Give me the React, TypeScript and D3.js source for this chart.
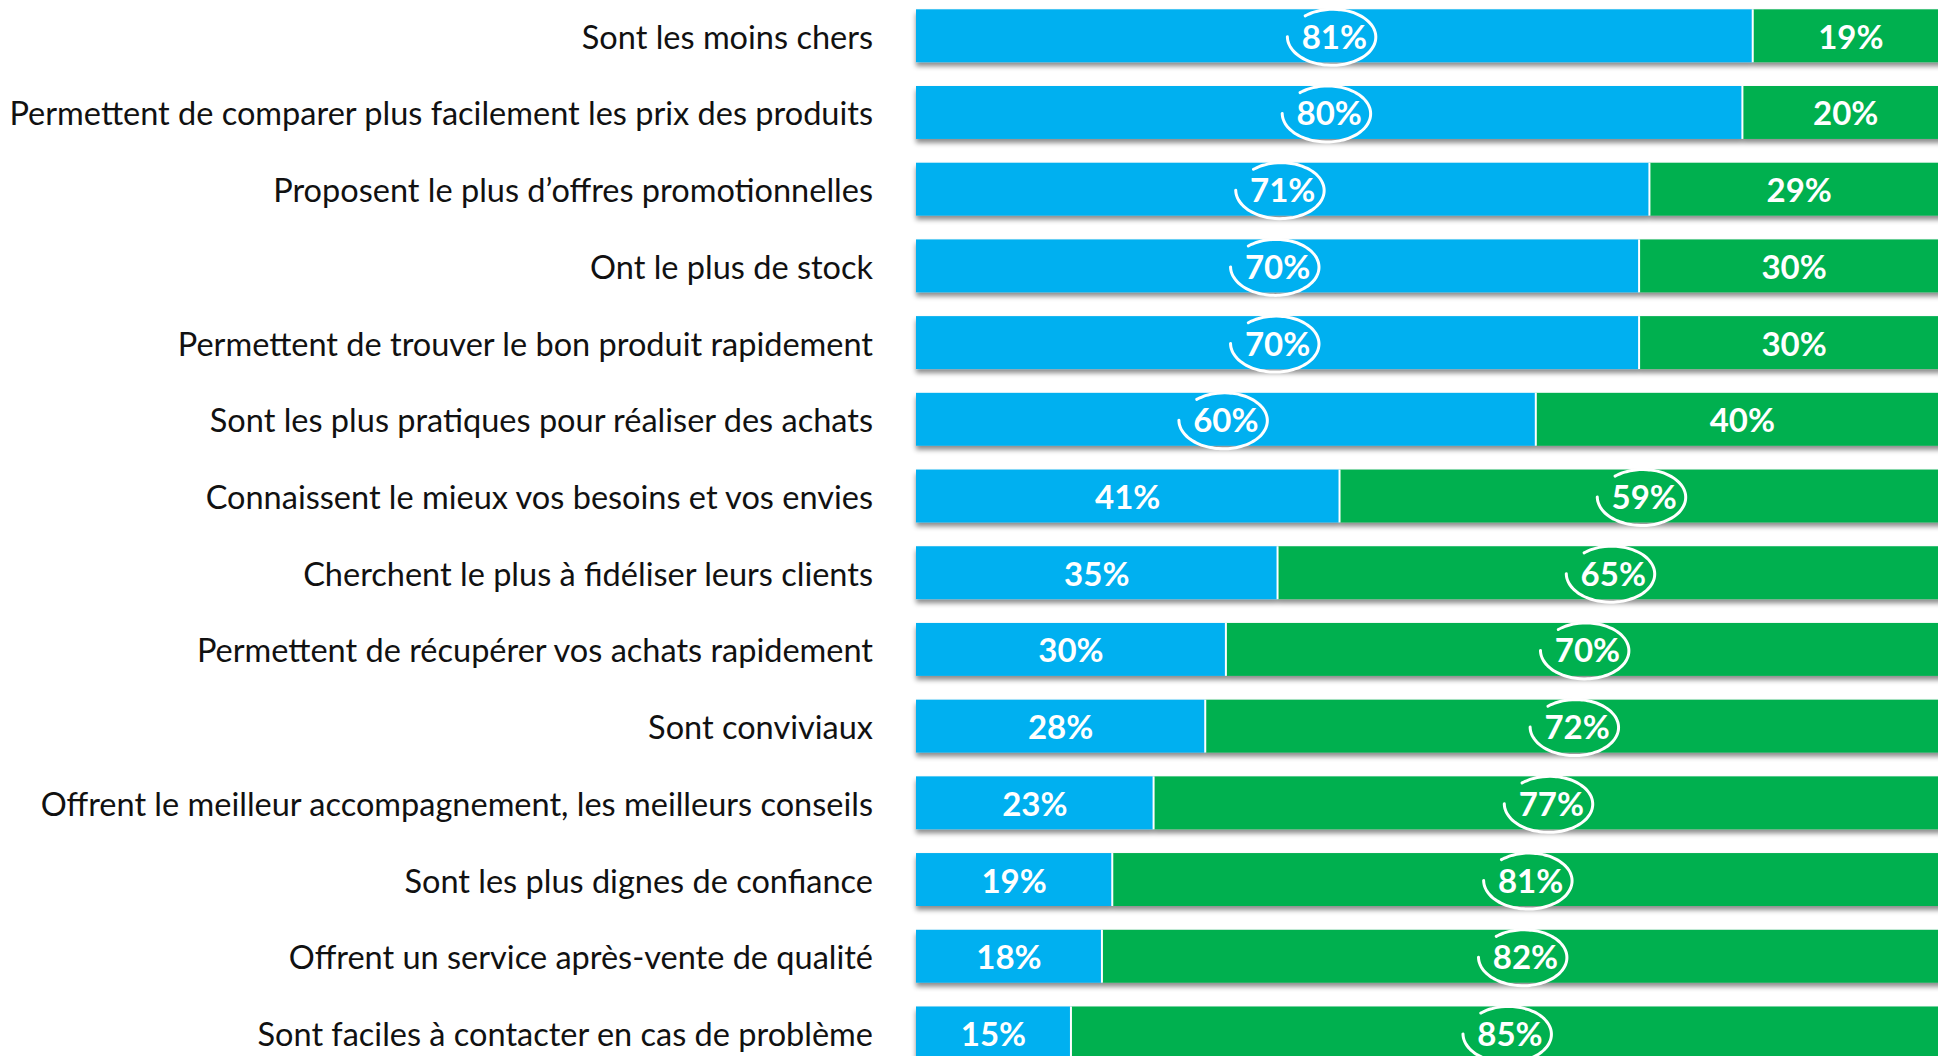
import { useEffect, useRef } from "react";
import * as d3 from "d3";

// categories, top to bottom
const categories = [
  "Sont les moins chers",
  "Permettent de comparer plus facilement les prix des produits",
  "Proposent le plus d\u2019offres promotionnelles",
  "Ont le plus de stock",
  "Permettent de trouver le bon produit rapidement",
  "Sont les plus pratiques pour réaliser des achats",
  "Connaissent le mieux vos besoins et vos envies",
  "Cherchent le plus à fidéliser leurs clients",
  "Permettent de récupérer vos achats rapidement",
  "Sont conviviaux",
  "Offrent le meilleur accompagnement, les meilleurs conseils",
  "Sont les plus dignes de confiance",
  "Offrent un service après-vente de qualité",
  "Sont faciles à contacter en cas de problème",
];

// blue series (first segment) and green series (second segment), in %
const blueValues = [81, 80, 71, 70, 70, 60, 41, 35, 30, 28, 23, 19, 18, 15];
const greenValues = [19, 20, 29, 30, 30, 40, 59, 65, 70, 72, 77, 81, 82, 85];

const BLUE = "#00B0F0";
const GREEN = "#00B050";
const FONT = "Lato, 'Open Sans', sans-serif";

const WIDTH = 1938;
const HEIGHT = 1056;

export default function App() {
  const ref = useRef<SVGSVGElement | null>(null);

  useEffect(() => {
    const svg = d3.select(ref.current);
    svg.selectAll("*").remove();

    const x = d3.scaleLinear().domain([0, 100]).range([916, 1949]);
    const y = d3
      .scaleBand<string>()
      .domain(categories)
      .range([9.3, 1059.4])
      .paddingInner(0.31)
      .paddingOuter(0);

    // drop shadow under bars
    const defs = svg.append("defs");
    const f = defs
      .append("filter")
      .attr("id", "shadow")
      .attr("x", "-5%")
      .attr("y", "-30%")
      .attr("width", "110%")
      .attr("height", "170%");
    f.append("feDropShadow")
      .attr("dx", 0)
      .attr("dy", 4)
      .attr("stdDeviation", 2.5)
      .attr("flood-color", "#000")
      .attr("flood-opacity", 0.45);

    const rows = categories.map((c, i) => ({
      cat: c,
      blue: blueValues[i],
      green: greenValues[i],
    }));

    // category labels
    svg
      .append("g")
      .selectAll("text")
      .data(rows)
      .join("text")
      .attr("x", 873)
      .attr("y", (d) => y(d.cat)! + y.bandwidth() / 2 + 0.5)
      .attr("text-anchor", "end")
      .attr("dominant-baseline", "central")
      .style("font-family", FONT)
      .style("font-size", "32.5px")
      .style("fill", "#111")
      .text((d) => d.cat);

    const bars = svg.append("g").attr("filter", "url(#shadow)");

    bars
      .selectAll("rect.blue")
      .data(rows)
      .join("rect")
      .attr("class", "blue")
      .attr("x", x(0))
      .attr("y", (d) => y(d.cat)!)
      .attr("width", (d) => x(d.blue) - x(0))
      .attr("height", y.bandwidth())
      .attr("fill", BLUE);

    bars
      .selectAll("rect.green")
      .data(rows)
      .join("rect")
      .attr("class", "green")
      .attr("x", (d) => x(d.blue))
      .attr("y", (d) => y(d.cat)!)
      .attr("width", (d) => x(d.blue + d.green) - x(d.blue))
      .attr("height", y.bandwidth())
      .attr("fill", GREEN);

    // white separator between segments
    svg
      .append("g")
      .selectAll("line")
      .data(rows)
      .join("line")
      .attr("x1", (d) => x(d.blue))
      .attr("x2", (d) => x(d.blue))
      .attr("y1", (d) => y(d.cat)!)
      .attr("y2", (d) => y(d.cat)! + y.bandwidth())
      .attr("stroke", "#fff")
      .attr("stroke-width", 2);

    // value labels
    const labels: { v: number; cx: number; cy: number; circled: boolean }[] = [];
    rows.forEach((d) => {
      const cy = y(d.cat)! + y.bandwidth() / 2;
      labels.push({
        v: d.blue,
        cx: (x(0) + x(d.blue)) / 2,
        cy,
        circled: d.blue > d.green,
      });
      labels.push({
        v: d.green,
        cx: (x(d.blue) + x(d.blue + d.green)) / 2,
        cy,
        circled: d.green > d.blue,
      });
    });

    svg
      .append("g")
      .selectAll("text")
      .data(labels)
      .join("text")
      .attr("x", (d) => d.cx)
      .attr("y", (d) => d.cy)
      .attr("text-anchor", "middle")
      .attr("dominant-baseline", "central")
      .style("font-family", FONT)
      .style("font-size", "33px")
      .style("font-weight", "bold")
      .style("fill", "#fff")
      .text((d) => `${d.v}%`);

    // hand-drawn open ellipses around the majority value
    const line = d3
      .line<[number, number]>()
      .curve(d3.curveCatmullRom);
    const ring = (cx: number, cy: number) => {
      const pts: [number, number][] = [];
      const start = Math.PI; // left
      const sweep = (310 / 180) * Math.PI;
      const n = 60;
      for (let k = 0; k <= n; k++) {
        const t = start - (sweep * k) / n;
        const s = 1 - 0.06 * (k / n);
        pts.push([cx + 45 * s * Math.cos(t), cy + 29 * s * Math.sin(t)]);
      }
      return line(pts);
    };

    svg
      .append("g")
      .selectAll("path")
      .data(labels.filter((d) => d.circled))
      .join("path")
      .attr("d", (d) => ring(d.cx - 2, d.cy + 1))
      .attr("fill", "none")
      .attr("stroke", "#fff")
      .attr("stroke-width", 3)
      .attr("stroke-linecap", "round");
  }, []);

  return (
    <div style={{ position: "fixed", left: 0, top: 0, width: WIDTH, height: HEIGHT, background: "#fff" }}>
      <svg ref={ref} width={WIDTH} height={HEIGHT} style={{ display: "block" }} />
    </div>
  );
}
